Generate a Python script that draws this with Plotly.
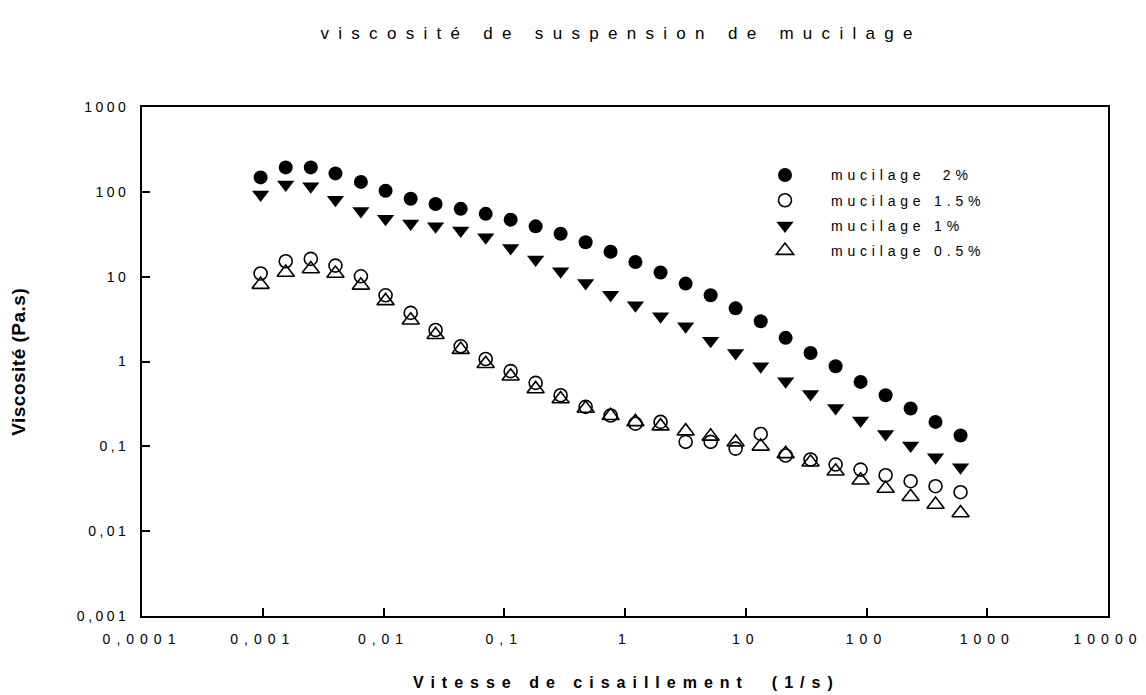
import plotly.graph_objects as go

# Shear rate (1/s)
shear_rate = [0.00096, 0.00155, 0.0025, 0.004, 0.0065, 0.0104, 0.0168, 0.027, 0.0436,
              0.0702, 0.113, 0.182, 0.293, 0.472, 0.76, 1.22, 1.97, 3.18, 5.12, 8.24,
              13.3, 21.4, 34.4, 55.5, 89.3, 144, 232, 373, 601]

# Viscosity (Pa.s) for each mucilage concentration
visc_2 = [148, 194, 194, 165, 131, 103, 83, 72, 63, 55, 47, 39.2, 32.1, 25.4, 19.7,
          14.9, 11.2, 8.28, 6.03, 4.23, 2.98, 1.90, 1.26, 0.879, 0.575, 0.400, 0.279,
          0.194, 0.134]
visc_15 = [10.9, 15.2, 16.2, 13.5, 10.1, 6.03, 3.74, 2.35, 1.51, 1.07, 0.77, 0.56, 0.40,
           0.292, 0.231, 0.185, 0.194, 0.113, 0.113, 0.094, 0.140, 0.078, 0.070, 0.061,
           0.0532, 0.0456, 0.0388, 0.0339, 0.0288]
visc_1 = [93.3, 122, 116, 80.9, 59.5, 48.3, 42.2, 39.2, 34.9, 29.1, 21.8, 15.9, 11.6,
          8.44, 6.13, 4.59, 3.41, 2.60, 1.76, 1.26, 0.879, 0.585, 0.415, 0.284, 0.201,
          0.140, 0.102, 0.0743, 0.0566]
visc_05 = [8.06, 11.2, 12.3, 10.9, 7.9, 5.18, 3.06, 2.07, 1.38, 0.94, 0.67, 0.475, 0.362,
           0.279, 0.229, 0.194, 0.173, 0.151, 0.131, 0.112, 0.100, 0.0815, 0.0649, 0.0508,
           0.0398, 0.0318, 0.0254, 0.0206, 0.0164]

series_names = ["mucilage  2%", "mucilage 1.5%", "mucilage 1%", "mucilage 0.5%"]

# Axis ticks (French decimal comma)
x_tickvals = [0.0001, 0.001, 0.01, 0.1, 1, 10, 100, 1000, 10000]
x_ticktext = ["0,0001", "0,001", "0,01", "0,1", "1", "10", "100", "1000", "10000"]
y_tickvals = [0.001, 0.01, 0.1, 1, 10, 100, 1000]
y_ticktext = ["0,001", "0,01", "0,1", "1", "10", "100", "1000"]

FONT = "Liberation Sans, Arial, sans-serif"

styles = [
    dict(symbol="circle", size=14, color="black", line=dict(width=0)),
    dict(symbol="circle-open", size=13, color="black", line=dict(width=1.6)),
    dict(symbol="triangle-down", size=15, color="black", line=dict(width=0)),
    dict(symbol="triangle-up-open", size=15, color="black", line=dict(width=1.6)),
]
values = [visc_2, visc_15, visc_1, visc_05]

fig = go.Figure()
for i, (name, yv, st) in enumerate(zip(series_names, values, styles)):
    fig.add_trace(go.Scatter(
        x=shear_rate, y=yv, mode="markers", name=name,
        legendgroup=f"g{i}", marker=st,
    ))

axis_common = dict(
    type="log", showgrid=False, zeroline=False,
    showline=True, linecolor="black", linewidth=1.6, mirror=True,
    ticks="inside", ticklen=8, tickwidth=1.5, tickcolor="black",
    tickfont=dict(family=FONT, size=14, color="black"),
)

fig.update_layout(
    width=1146, height=695,
    margin=dict(l=142, r=38, t=107, b=79),
    paper_bgcolor="white", plot_bgcolor="white",
    showlegend=True,
    title=dict(
        text="viscosité de suspension de mucilage",
        font=dict(family=FONT, size=17, color="black"),
        x=0.542, xref="container", xanchor="center",
        y=1 - 33 / 695, yref="container", yanchor="middle",
    ),
    xaxis=dict(axis_common, range=[-4, 4], tickvals=x_tickvals, ticktext=x_ticktext,
               ticklabelstandoff=9),
    yaxis=dict(axis_common, range=[-3, 3], tickvals=y_tickvals, ticktext=y_ticktext,
               ticklabelstandoff=8),
    legend=dict(
        x=0.618, y=0.897, xanchor="left", yanchor="top",
        bgcolor="rgba(0,0,0,0)", borderwidth=0,
        font=dict(family=FONT, size=14, color="black"),
        itemwidth=82, tracegroupgap=4, traceorder="grouped",
    ),
    annotations=[
        dict(text="<b>Vitesse de cisaillement  (1/s)</b>", xref="paper", yref="paper",
             x=0.502, y=-0.1297, xanchor="center", yanchor="middle", showarrow=False,
             font=dict(family=FONT, size=16, color="black")),
        dict(text="<b>Viscosité (Pa.s)</b>", xref="paper", yref="paper",
             x=-0.128, y=0.5, xanchor="center", yanchor="middle", showarrow=False,
             textangle=-90,
             font=dict(family="Liberation Sans Narrow, Liberation Sans, Arial", size=19,
                       color="black")),
    ],
)

# Wide letter spacing used throughout the chart's lettering
spacing_js = """
var gd = document.getElementById('{plot_id}');
function spreadLetters() {
  gd.querySelectorAll('.gtitle').forEach(function(e){ e.style.letterSpacing = '9.3px'; });
  gd.querySelectorAll('.xtick text').forEach(function(e){ e.style.letterSpacing = '6px'; });
  gd.querySelectorAll('.ytick text').forEach(function(e){ e.style.letterSpacing = '3.5px'; });
  gd.querySelectorAll('.legendtext').forEach(function(e){ e.style.letterSpacing = '4.8px'; });
  gd.querySelectorAll('.legend .scrollbox').forEach(function(e){ e.removeAttribute('clip-path'); });
  var a = gd.querySelector('g.annotation[data-index="0"] text');
  if (a) { a.style.letterSpacing = '7px'; }
  var b = gd.querySelector('g.annotation[data-index="1"] text');
  if (b) { b.style.letterSpacing = '0.5px'; }
}
spreadLetters();
gd.on('plotly_afterplot', spreadLetters);
"""

fig.write_html("out.html", post_script=spacing_js)
